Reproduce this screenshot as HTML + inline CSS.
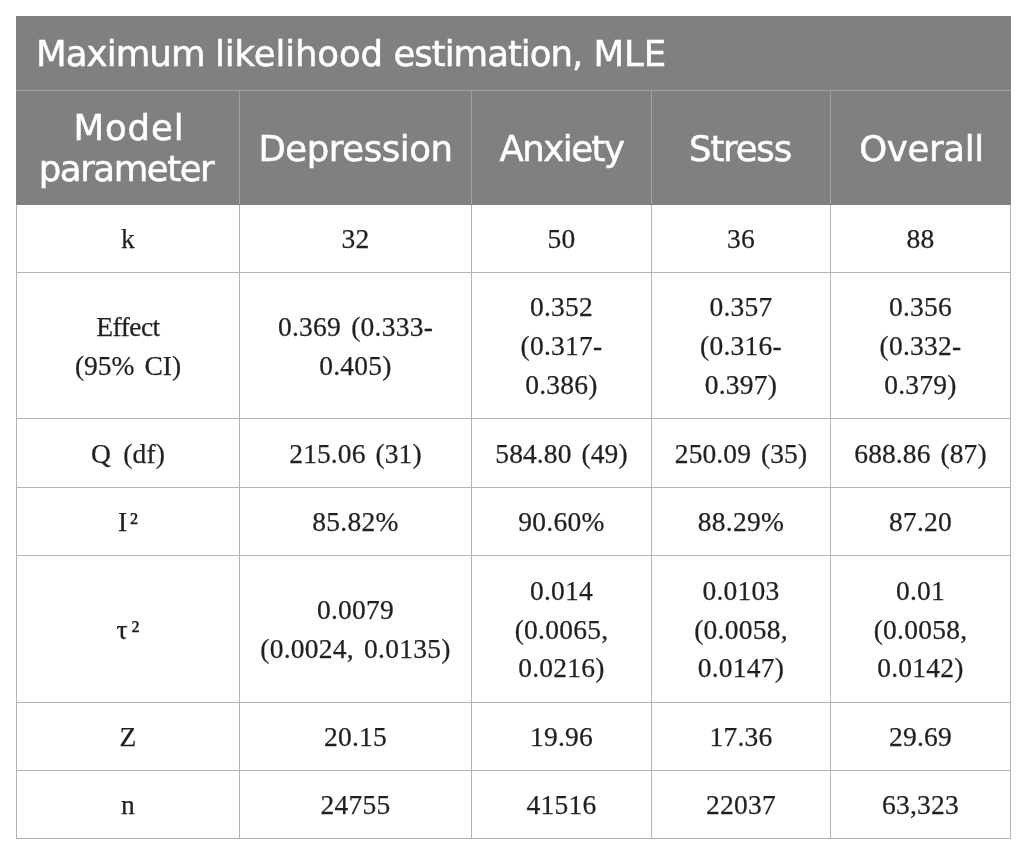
<!DOCTYPE html>
<html><head><meta charset="utf-8">
<style>
html,body{margin:0;padding:0;background:#fff;}
body{width:1026px;height:855px;position:relative;overflow:hidden;}
table{position:absolute;left:16px;top:16px;border-collapse:collapse;table-layout:fixed;width:994px;}
td,th{border:1px solid #b4b4b4;padding:0;text-align:center;vertical-align:middle;}
th{background:#7f8180;color:#fff;font-family:"DejaVu Sans","Liberation Sans",sans-serif;font-weight:400;font-size:35.5px;line-height:41.4px;border-color:#a0a1a1;padding-top:1px;-webkit-text-stroke:0.5px #fff;}
th.title{text-align:left;padding-left:19px;height:73px;padding-top:0;word-spacing:-2px}
th span{position:relative}
th.s{padding-top:3px}
tr.h1 th{border-top-color:#7f8180;border-left-color:#7f8180;border-right-color:#7f8180;}
tr.h2 th{border-bottom-color:#7f8180;}
tr.h2 th:first-child{border-left-color:#7f8180;}
tr.h2 th:last-child{border-right-color:#7f8180;}
td{font-family:"Liberation Serif",serif;font-size:27.5px;line-height:38.75px;color:#231f20;word-spacing:3px;letter-spacing:0.25px;padding-top:2px;-webkit-text-stroke:0.25px #231f20;}
tr.q td{letter-spacing:0.1px}
</style></head><body>
<table>
<colgroup><col style="width:223px"><col style="width:232px"><col style="width:180px"><col style="width:179px"><col style="width:180px"></colgroup>
<tr class="h1"><th class="title" colspan="5"><span style="letter-spacing:-0.9px">Maximum</span> <span style="letter-spacing:-0.11px;margin-left:1.1px">likelihood</span> <span style="letter-spacing:-1px;margin-left:1.2px">estimation,</span> <span style="margin-left:1.9px">MLE</span></th></tr>
<tr class="h2" style="height:114px"><th><span style="letter-spacing:0.9px;left:1px">Model</span><br><span style="letter-spacing:-1.44px;left:-2px">parameter</span></th><th class="s"><span style="letter-spacing:-0.44px">Depression</span></th><th class="s"><span style="letter-spacing:-1.5px">Anxiety</span></th><th class="s"><span style="letter-spacing:-1.2px;left:-1px">Stress</span></th><th class="s"><span style="letter-spacing:-0.33px;left:1px">Overall</span></th></tr>
<tr style="height:68px"><td>k</td><td>32</td><td>50</td><td>36</td><td>88</td></tr>
<tr style="height:146px"><td><span style="letter-spacing:-0.55px">Effect</span><br><span style="letter-spacing:0">(95% CI)</span></td><td>0.369 (0.333-<br>0.405)</td><td>0.352<br>(0.317-<br>0.386)</td><td>0.357<br>(0.316-<br>0.397)</td><td>0.356<br>(0.332-<br>0.379)</td></tr>
<tr class="q" style="height:69px"><td><span style="word-spacing:5.25px">Q (df)</span></td><td>215.06 (31)</td><td>584.80 (49)</td><td>250.09 (35)</td><td>688.86 (87)</td></tr>
<tr style="height:68px"><td><span style="letter-spacing:2.5px;margin-right:-2.5px">I²</span></td><td>85.82%</td><td>90.60%</td><td>88.29%</td><td>87.20</td></tr>
<tr style="height:147px"><td><span style="letter-spacing:3.5px;margin-right:-3.5px">τ²</span></td><td>0.0079<br>(0.0024, 0.0135)</td><td>0.014<br>(0.0065,<br>0.0216)</td><td>0.0103<br>(0.0058,<br>0.0147)</td><td>0.01<br>(0.0058,<br>0.0142)</td></tr>
<tr style="height:68px"><td>Z</td><td>20.15</td><td>19.96</td><td>17.36</td><td>29.69</td></tr>
<tr style="height:68px"><td>n</td><td>24755</td><td>41516</td><td>22037</td><td>63,323</td></tr>
</table>
</body></html>
